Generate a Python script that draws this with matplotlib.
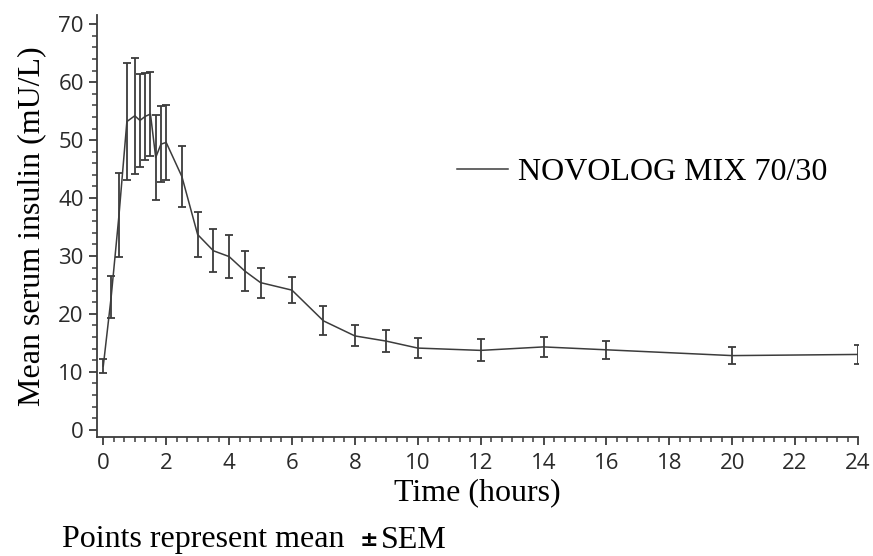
import numpy as np
import matplotlib
matplotlib.use("Agg")
import matplotlib.pyplot as plt
from matplotlib.ticker import MultipleLocator

# time points (hours)
hours = [0, 0.25, 0.5, 0.75, 1.0, 1.167, 1.333, 1.5, 1.667, 1.833, 2.0, 2.5,
         3, 3.5, 4, 4.5, 5, 6, 7, 8, 9, 10, 12, 14, 16, 20, 24]
# mean serum insulin (mU/L)
insulin = [11.0, 22.9, 37.1, 53.2, 54.2, 53.4, 54.1, 54.5, 47.0, 49.3, 49.6, 43.7,
           33.7, 30.9, 29.9, 27.4, 25.4, 24.1, 18.8, 16.2, 15.3, 14.1, 13.7, 14.3,
           13.8, 12.8, 13.0]
# standard error of the mean
sem = [1.2, 3.6, 7.3, 10.1, 10.0, 8.0, 7.5, 7.3, 7.4, 6.6, 6.4, 5.2,
       3.9, 3.7, 3.7, 3.4, 2.6, 2.3, 2.5, 1.8, 1.9, 1.7, 1.9, 1.7,
       1.6, 1.5, 1.7]

series_name = "NOVOLOG MIX 70/30"
x_ticks = list(range(0, 25, 2))
y_ticks = list(range(0, 71, 10))

plt.rcParams["font.family"] = ["Open Sans", "DejaVu Sans"]
dark = "#3c3c3c"
serif = "Liberation Serif"
fs = 23

fig = plt.figure(figsize=(8.73, 5.56), dpi=100)
ax = fig.add_axes([97 / 873, 1 - 436.7 / 556, 761 / 873, 421.7 / 556])

ax.errorbar(hours, insulin, yerr=sem, fmt="none", ecolor=dark,
            elinewidth=1.3, capsize=2.6, capthick=1.3)
ax.plot(hours, insulin, color=dark, lw=1.1, label=series_name)

ax.set_xlim(-0.2, 24)
ax.set_ylim(-1.2, 71.6)
ax.set_xticks(x_ticks)
ax.set_yticks(y_ticks)
ax.xaxis.set_minor_locator(MultipleLocator(1 / 3))
ax.yaxis.set_minor_locator(MultipleLocator(2))

for s in ["top", "right"]:
    ax.spines[s].set_visible(False)
for s in ["left", "bottom"]:
    ax.spines[s].set_color(dark)
    ax.spines[s].set_linewidth(1.3)

ax.tick_params(which="major", length=6, width=1.3, color=dark,
               labelsize=16, labelcolor="#2a2a2a")
ax.tick_params(axis="x", which="major", pad=6)
ax.tick_params(which="minor", length=3.5, width=1.1, color=dark)

ax.set_xlabel("Time (hours)", family=serif, fontsize=fs, labelpad=3)
ax.set_ylabel("Mean serum insulin (mU/L)", family=serif, fontsize=fs, labelpad=9)

leg = ax.legend(loc="center left", bbox_to_anchor=(457 / 873, 1 - 172 / 556),
                bbox_transform=fig.transFigure, frameon=False,
                prop={"family": serif, "size": fs}, handlelength=1.6,
                handletextpad=0.3, borderpad=0, borderaxespad=0)

fy = 1 - 540 / 556
fig.text(62 / 873, fy, "Points represent mean", family=serif, fontsize=fs,
         va="center", ha="left")
fig.text(369 / 873, fy, "\u00b1", family="DejaVu Sans", fontweight="bold",
         fontsize=16, va="center", ha="center")
fig.text(381 / 873, fy, "SEM", family=serif, fontsize=fs, va="center", ha="left")

fig.savefig("out.png", dpi=100)
